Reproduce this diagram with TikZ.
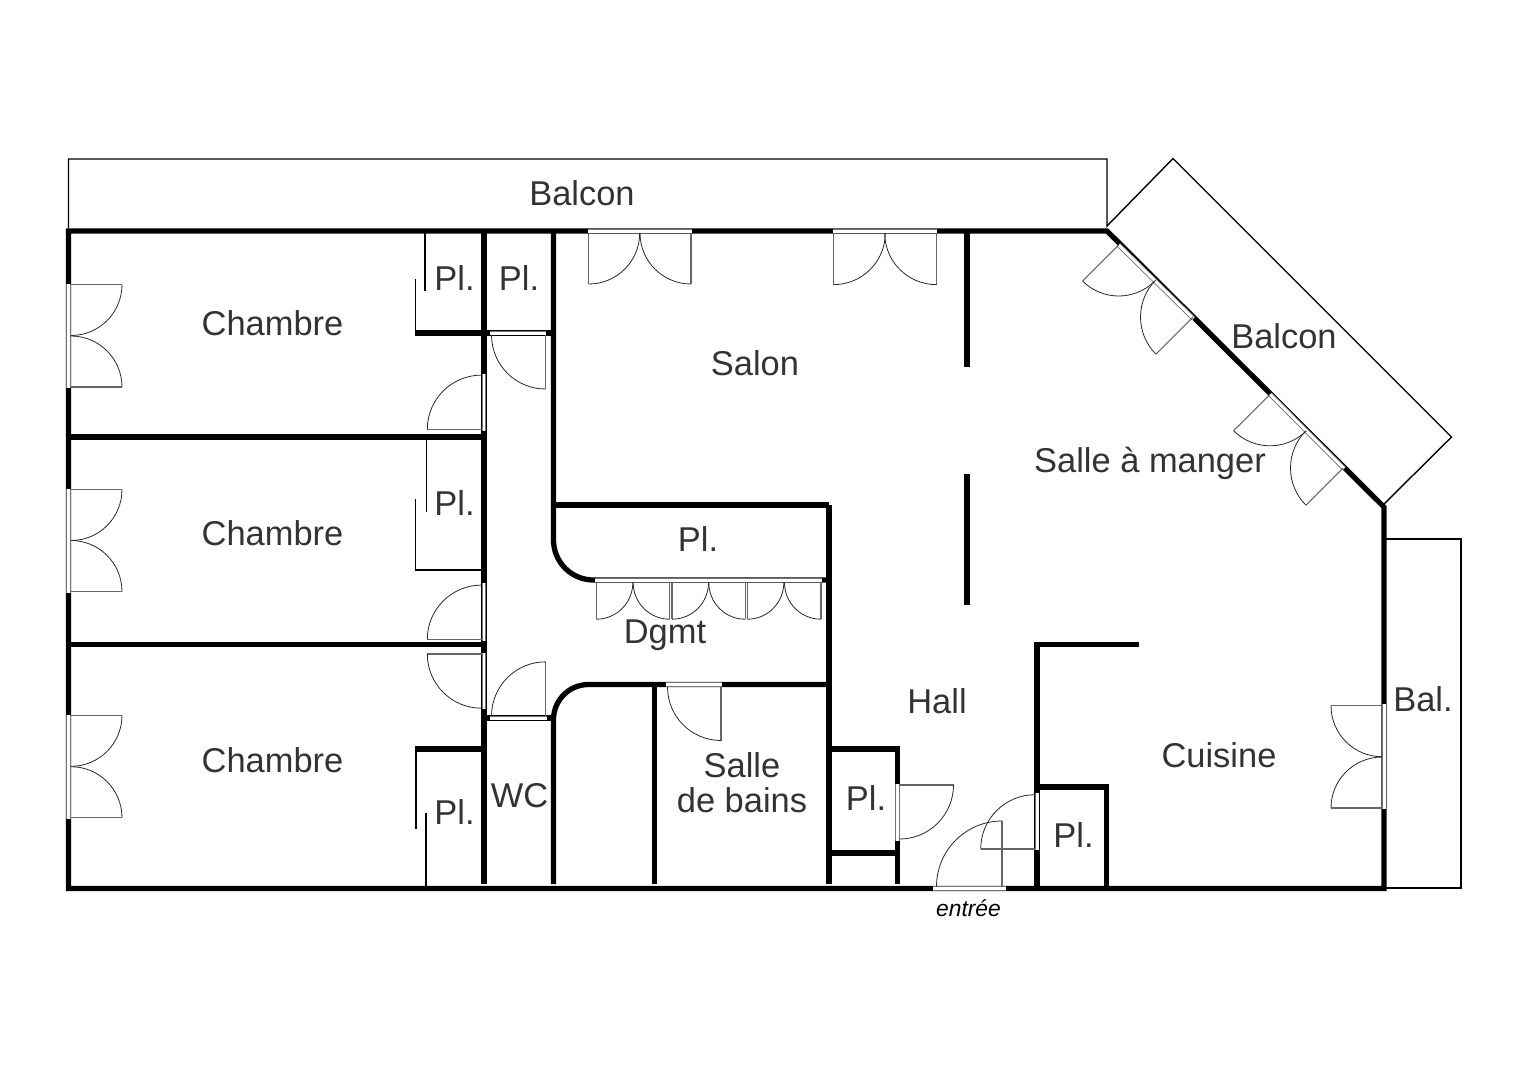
\documentclass[tikz,border=0pt]{standalone}
\usepackage{fontspec}
\setmainfont{Liberation Sans}
\usepackage{tikz}
\tikzstyle{wall}     = [draw, line width=3pt, miter limit=4]
\tikzstyle{thinwall} = [draw, line width=0.85pt]
\tikzstyle{balcony}  = [draw, line width=0.8pt]
\tikzstyle{leaf}     = [draw, black!60, line width=0.6pt]
\tikzstyle{swing}    = [draw, black!85, line width=0.45pt]
\tikzstyle{room}     = [anchor=base, inner sep=0pt, text=black!80, font=\fontsize{19.6}{19.6}\selectfont]
\tikzstyle{doormark} = [anchor=base, inner sep=0pt, font=\fontsize{13}{13}\selectfont\itshape]
% hinge, angle of the open leaf, sweep, length
\newcommand{\doorleaf}[4]{
  \draw [leaf] (#1) -- ++(#2:#4) coordinate (tip);
  \draw [swing] (tip) arc [start angle=#2, delta angle=#3, radius=#4];
}
\newcommand{\doorsill}[2]{
  \draw [line width=2.7pt, black!55] (#1) -- (#2);
  \draw [line width=1.7pt, white] (#1) -- (#2);
}

\begin{document}
\begin{tikzpicture}[x=0.02cm, y=-0.02cm]
\useasboundingbox (0,0) rectangle (1528,1080);

% balconies
\path [balcony] (68.5,228) -- (68.5,159) -- (1107,159) -- (1107,226) -- (1173,158.5) -- (1451.5,437) -- (1384,504);
\path [balcony] (1386,539) -- (1461,539) -- (1461,888) -- (1386,888);

% walls
\path [wall] (68.5,231) -- (1107,231) -- (1384,507) -- (1384,888.5) -- (68.5,888.5) -- cycle;
\path [wall] (68.5,437)  -- (484,437);
\path [wall] (68.5,644.5) -- (484,644.5);
\path [wall] (484,231)   -- (484,884);
\path [wall] (484,333)   -- (553.5,333);
\path [wall] (484,718)   -- (553.5,718);
\path [wall] (414.7,333) -- (484,333);
\path [wall] (415.3,749) -- (484,749);
\path [wall] (553.5,231) -- (553.5,540) arc [start angle=180, delta angle=-90, radius=40] -- (829,580);
\path [wall] (553.5,505) -- (829,505);
\path [wall] (553.5,884) -- (553.5,719.5) arc [start angle=180, delta angle=90, radius=35] -- (829,684.5);
\path [wall] (654.2,684.5) -- (654.2,884);
\path [wall] (829,505)   -- (829,884);
\path [wall] (829,749)   -- (897.3,749) -- (897.3,884);
\path [wall] (829,853)   -- (897.3,853);
\path [wall] (967,231)   -- (967,366.7);
\path [wall] (967,474)   -- (967,605);
\path [wall] (1139.3,644.5) -- (1037,644.5) -- (1037,888.5);
\path [wall] (1037,787)  -- (1106.5,787) -- (1106.5,888.5);

% closet partitions
\path [thinwall] (425,231)   -- (425,291);
\path [thinwall] (415.7,332) -- (415.7,279.3);
\path [thinwall] (426.4,437) -- (426.4,512);
\path [thinwall] (415.7,499.3) -- (415.7,570) -- (482,570);
\path [thinwall] (416,749)   -- (416,828.7);
\path [thinwall] (426,812.7) -- (426,888);

% door sills
\doorsill{68.5,283.5}{68.5,387.5}
\doorsill{68.5,488.5}{68.5,592.5}
\doorsill{68.5,714.5}{68.5,818.5}
\doorsill{484,374}{484,430.7}
\doorsill{484,583.3}{484,640.7}
\doorsill{484,652.7}{484,709.3}
\doorsill{490.4,333}{546.2,333}
\doorsill{490,718}{546.7,718}
\doorsill{587.7,231}{692.3,231}
\doorsill{832.7,231}{937.3,231}
\doorsill{595.3,580}{670.8,580}
\doorsill{670.8,580}{746.5,580}
\doorsill{746.5,580}{821.7,580}
\doorsill{665.7,684.5}{722,684.5}
\doorsill{897.3,784}{897.3,840.7}
\doorsill{1037,793.3}{1037,850}
\doorsill{933,888.5}{1006,888.5}
\doorsill{1384,704.3}{1384,809.3}
\doorsill{1118.7,245}{1193.3,318.5}
\doorsill{1270,394.3}{1344,468.5}

% door leaves
\doorleaf{71,284.5}{0}{90}{51}
\doorleaf{71,387}{0}{-90}{51}
\doorleaf{71,489.5}{0}{90}{51}
\doorleaf{71,591.5}{0}{-90}{51}
\doorleaf{71,715.3}{0}{90}{51}
\doorleaf{71,817.7}{0}{-90}{51}
\doorleaf{481.5,429.3}{180}{90}{54.2}
\doorleaf{481.5,639.3}{180}{90}{54.2}
\doorleaf{481.5,654}{180}{-90}{54.2}
\doorleaf{545.5,335}{90}{90}{54}
\doorleaf{545.7,716}{270}{-90}{54.2}
\doorleaf{588.7,233}{90}{-90}{51}
\doorleaf{691,233}{90}{90}{51}
\doorleaf{833.7,233}{90}{-90}{51.6}
\doorleaf{936.3,233}{90}{90}{51.6}
\doorleaf{596.3,582.7}{90}{-90}{36.5}
\doorleaf{669.7,582.7}{90}{90}{36.5}
\doorleaf{672,582.7}{90}{-90}{36.5}
\doorleaf{745.3,582.7}{90}{90}{36.5}
\doorleaf{747.3,582.7}{90}{-90}{36.5}
\doorleaf{821,582.7}{90}{90}{36.5}
\doorleaf{721,687}{90}{90}{53.5}
\doorleaf{899.5,785}{0}{90}{54}
\doorleaf{1035,849}{180}{90}{54.3}
\doorleaf{1002,886.5}{270}{-90}{65.5}
\doorleaf{1382,705.7}{180}{-90}{51}
\doorleaf{1382,808}{180}{90}{51}
\doorleaf{1118.7,245}{135}{-90}{51}
\doorleaf{1193,317}{135}{90}{52.5}
\doorleaf{1270,394.3}{135}{-90}{51.5}
\doorleaf{1343,468}{135}{90}{52.5}

% labels
\node [room] at ( 582  , 205   ) (balconnord) {Balcon};
\node [room] at (1284  , 348.7 ) (balconest)  {Balcon};
\node [room] at (1423  , 711.7 ) (bal)        {Bal.};
\node [room] at ( 272.5, 335   ) (chambrea)   {Chambre};
\node [room] at ( 272.5, 545   ) (chambreb)   {Chambre};
\node [room] at ( 272.5, 772.7 ) (chambrec)   {Chambre};
\node [room] at ( 454.5, 290.3 ) (pla)        {Pl.};
\node [room] at ( 519  , 290.3 ) (plb)        {Pl.};
\node [room] at ( 454.5, 515   ) (plc)        {Pl.};
\node [room] at ( 454.5, 824.3 ) (pld)        {Pl.};
\node [room] at ( 698  , 551.5 ) (ple)        {Pl.};
\node [room] at ( 866  , 810.5 ) (plf)        {Pl.};
\node [room] at (1073.5, 847.3 ) (plg)        {Pl.};
\node [room] at ( 755  , 375.3 ) (salon)      {Salon};
\node [room] at (1150  , 472.7 ) (manger)     {Salle à manger};
\node [room] at ( 665  , 643.3 ) (dgmt)       {Dgmt};
\node [room] at ( 937  , 713   ) (hall)       {Hall};
\node [room] at (1219  , 767   ) (cuisine)    {Cuisine};
\node [room] at ( 519.5, 807.3 ) (wc)         {WC};
\node [room, align=center, anchor=center] at (742, 782.5) (bains) {Salle\\de bains};
\node [doormark] at ( 968.5, 916   ) (entree)     {entrée};

\end{tikzpicture}
\end{document}
